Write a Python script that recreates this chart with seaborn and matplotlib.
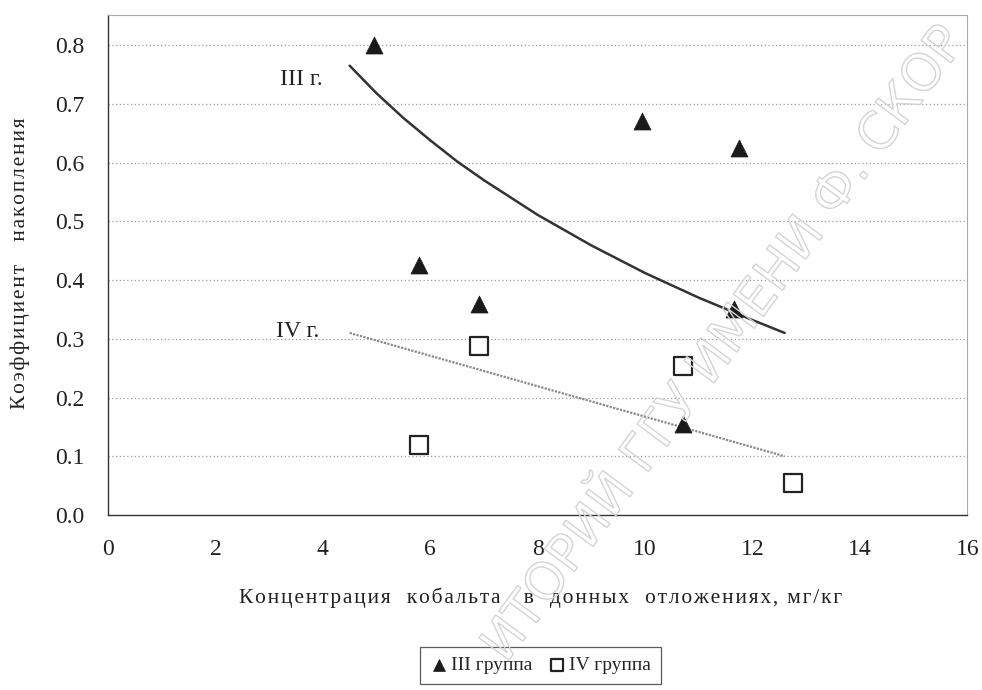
import numpy as np
import pandas as pd
import matplotlib
matplotlib.use("Agg")
import matplotlib.pyplot as plt
import seaborn as sns
from matplotlib import patheffects as pe

# Data
x3 = [4.95, 5.8, 6.9, 9.95, 11.75, 11.65, 10.7]
y3 = [0.80, 0.425, 0.36, 0.67, 0.625, 0.35, 0.155]
x4 = [5.8, 6.9, 10.7, 12.75]
y4 = [0.12, 0.287, 0.253, 0.055]
trend3_x = [4.5, 5.0, 5.5, 6.0, 6.5, 7.0, 8.0, 9.0, 10.0, 11.0, 12.0, 12.6]
trend3_y = [0.765, 0.718, 0.676, 0.638, 0.602, 0.57, 0.511, 0.459, 0.412, 0.37, 0.332, 0.31]
trend4_x = [4.5, 12.6]
trend4_y = [0.31, 0.10]
x_ticks = list(range(0, 17, 2))
y_ticks = [0.0, 0.1, 0.2, 0.3, 0.4, 0.5, 0.6, 0.7, 0.8]

sns.set_theme(style="white")
SERIF = ["Liberation Serif", "DejaVu Serif"]
plt.rcParams["font.family"] = SERIF


def spaced(s):
    # slight letter spacing, as in the scanned original
    return "\u200a".join(s)


fig = plt.figure(figsize=(9.82, 6.90), dpi=100)
ax = fig.add_axes([0.110, 0.2536, 0.875, 0.7244])

# dotted horizontal grid
for yv in y_ticks[1:]:
    ax.axhline(yv, color="#9a9a9a", linestyle=(0, (1, 2)), linewidth=0.9, zorder=0)

df3 = pd.DataFrame({"x": x3, "y": y3})
df4 = pd.DataFrame({"x": x4, "y": y4})
t3 = pd.DataFrame({"x": trend3_x, "y": trend3_y})
t4 = pd.DataFrame({"x": trend4_x, "y": trend4_y})

sns.lineplot(data=t3, x="x", y="y", ax=ax, color="#333333", linewidth=1.8, zorder=2)
sns.lineplot(data=t4, x="x", y="y", ax=ax, color="#8a8a8a", linewidth=1.6,
             linestyle=(0, (1, 0.6)), zorder=2)
sns.scatterplot(data=df3, x="x", y="y", ax=ax, marker="^", s=150, color="#1a1a1a",
                edgecolor="#1a1a1a", linewidth=0.5, zorder=3, label="III группа")
sns.scatterplot(data=df4, x="x", y="y", ax=ax, marker="s", s=150, facecolor="white",
                edgecolor="#222222", linewidth=1.6, zorder=3, label="IV группа")

ax.set_xlim(0, 16)
ax.set_ylim(0, 0.851)
ax.set_xticks(x_ticks)
ax.set_yticks(y_ticks)
ax.set_xticklabels([str(v) for v in x_ticks], family="Liberation Serif")
ax.set_yticklabels([f"{v:.1f}" for v in y_ticks], family="Liberation Serif")
ax.tick_params(axis="both", labelsize=17, colors="#222222", width=0.8)
ax.tick_params(axis="x", direction="in", length=4, pad=17, color="#888888")
ax.tick_params(axis="y", direction="out", length=5, pad=12)
ax.set_xlabel("")
ax.set_ylabel("")

for s in ["left", "bottom"]:
    ax.spines[s].set_color("#333333")
    ax.spines[s].set_linewidth(1.0)
for s in ["top", "right"]:
    ax.spines[s].set_color("#aaaaaa")
    ax.spines[s].set_linewidth(0.8)

ax.text(3.2, 0.732, "III г.", fontsize=17, color="#222222", family="Liberation Serif")
ax.text(3.12, 0.303, "IV г.", fontsize=17, color="#222222", family="Liberation Serif")

fig.text(0.550, 0.133, spaced("Концентрация  кобальта   в  донных  отложениях, мг/кг"),
         ha="center", va="center", fontsize=15.5, color="#222222", family=SERIF)
fig.text(0.021, 0.619, spaced("Коэффициент   накопления"), rotation=90,
         ha="center", va="center", fontsize=15.5, color="#222222", family=SERIF)

leg_handles, leg_labels = ax.get_legend_handles_labels()
if ax.legend_:
    ax.legend_.remove()
leg = fig.legend(leg_handles, leg_labels, loc="center", bbox_to_anchor=(0.55, 0.036),
                 ncol=2, fontsize=14, frameon=True, fancybox=False, edgecolor="#333333",
                 handletextpad=0.1, columnspacing=0.8, handlelength=1.0,
                 borderpad=0.5, markerscale=0.7)
leg.get_frame().set_linewidth(0.9)

# faint repository watermark (visible portion only), outline letters
wm = fig.text(0.738, 0.50, "ИТОРИЙ ГГУ ИМЕНИ Ф. СКОР", rotation=53.5,
              rotation_mode="anchor", ha="center", va="center", fontsize=37,
              color=(1, 1, 1, 0), family=["DejaVu Sans"], zorder=10)
wm.set_path_effects([pe.Stroke(linewidth=1.0, foreground="#d4d4d4")])

fig.savefig("out.png", dpi=100, facecolor="white")
